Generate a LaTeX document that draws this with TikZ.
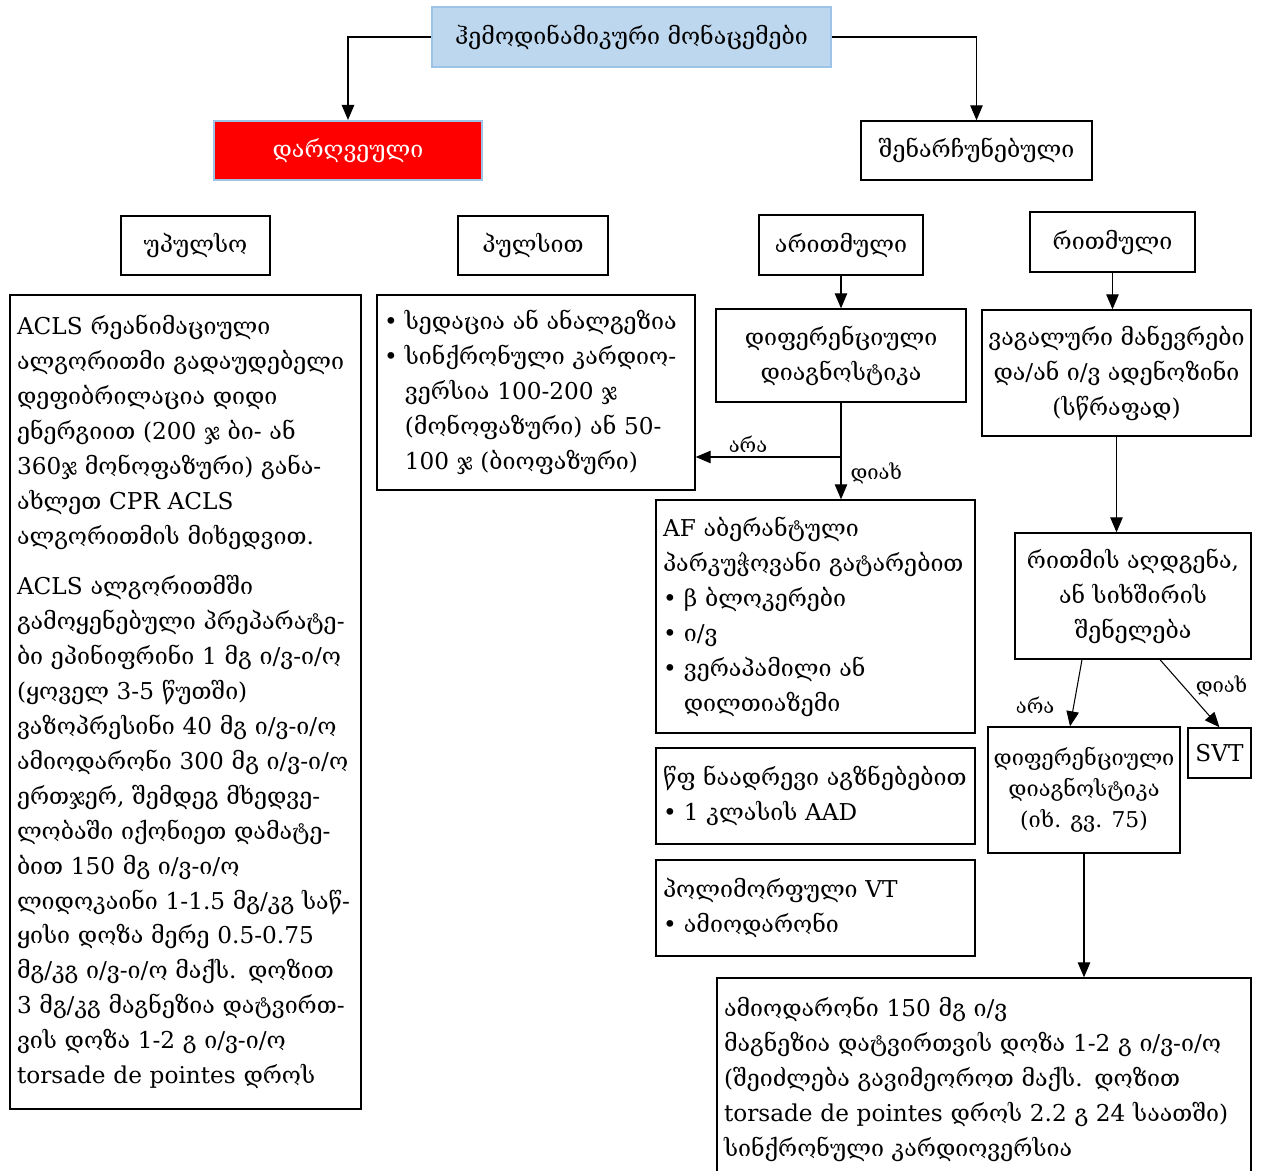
\documentclass[tikz,border=0pt]{standalone}
\usepackage{fontspec}
\setmainfont{DejaVu Serif}
\usetikzlibrary{positioning}
\usetikzlibrary{arrows.meta}
\definecolor{hdrblue}{HTML}{BDD7EE}
\definecolor{hdrline}{HTML}{9DC3E6}
\tikzset{
    boxn/.style = {rectangle, draw=black, line width=0.8pt, align=center, inner xsep=0.1cm, inner ysep=0.18cm, font=\fontsize{13.2}{19.9}\selectfont, text=black},
    boxh/.style = {boxn, draw=hdrline, fill=hdrblue, line width=1.2pt},
    boxr/.style = {boxn, draw=hdrline, fill=red, text=white, line width=1.2pt},
    boxl/.style = {boxn, align=left, inner xsep=0.14cm},
    boxs/.style = {boxn, font=\fontsize{12.4}{17.6}\selectfont},
    edgen/.style = {-{Triangle[length=0.3cm,width=0.25cm]}, line width=0.6pt, black},
    lbl/.style = {font=\fontsize{11.5}{14}\selectfont, inner sep=0.08cm},
}
\newcommand{\bul}{\makebox[0.9em][l]{•}}
\newcommand{\ind}{\hspace*{0.9em}}

\begin{document}
\begin{tikzpicture}
\useasboundingbox (0,0) rectangle (25.34,-23.42);

\node[boxh, minimum width=7.98cm, minimum height=1.20cm] at (12.63, -0.74) (hemo) {ჰემოდინამიკური მონაცემები};
\node[boxr, minimum width=5.36cm, minimum height=1.18cm] at ( 6.96, -3.01) (dar) {დარღვეული};
\node[boxn, minimum width=4.62cm, minimum height=1.18cm] at (19.53, -3.01) (shen) {შენარჩუნებული};

\node[boxn, minimum width=2.98cm, minimum height=1.18cm] at ( 3.91, -4.91) (upul) {უპულსო};
\node[boxn, minimum width=3.00cm, minimum height=1.18cm] at (10.66, -4.91) (pult) {პულსით};
\node[boxn, minimum width=3.28cm, minimum height=1.20cm] at (16.82, -4.90) (arit) {არითმული};
\node[boxn, minimum width=3.30cm, minimum height=1.20cm] at (22.25, -4.84) (ritm) {რითმული};

\node[boxl, text width=6.74cm, minimum height=16.28cm] at ( 3.71,-14.04) (acls) {ACLS რეანიმაციული\\
ალგორითმი გადაუდებელი\\
დეფიბრილაცია დიდი\\
ენერგიით (200 ჯ ბი- ან\\
360ჯ მონოფაზური) განა-\\
ახლეთ CPR ACLS\\
ალგორითმის მიხედვით.\\[0.3cm]
ACLS ალგორითმში\\
გამოყენებული პრეპარატე-\\
ბი ეპინიფრინი 1 მგ ი/ვ-ი/ო\\
(ყოველ 3-5 წუთში)\\
ვაზოპრესინი 40 მგ ი/ვ-ი/ო\\
ამიოდარონი 300 მგ ი/ვ-ი/ო\\
ერთჯერ, შემდეგ მხედვე-\\
ლობაში იქონიეთ დამატე-\\
ბით 150 მგ ი/ვ-ი/ო\\
ლიდოკაინი 1-1.5 მგ/კგ საწ-\\
ყისი დოზა მერე 0.5-0.75\\
მგ/კგ ი/ვ-ი/ო მაქს. დოზით\\
3 მგ/კგ მაგნეზია დატვირთ-\\
ვის დოზა 1-2 გ ი/ვ-ი/ო\\
torsade de pointes დროს};

\node[boxl, text width=6.08cm, minimum height=3.90cm] at (10.72, -7.85) (pulse) {\bul სედაცია ან ანალგეზია\\
\bul სინქრონული კარდიო-\\
\ind ვერსია 100-200 ჯ\\
\ind (მონოფაზური) ან 50-\\
\ind 100 ჯ (ბიოფაზური)};

\node[boxn, minimum width=5.00cm, minimum height=1.86cm] at (16.82, -7.11) (diff1) {დიფერენციული\\დიაგნოსტიკა};
\node[boxn, minimum width=5.38cm, minimum height=2.52cm] at (22.33, -7.46) (vag) {ვაგალური მანევრები\\და/ან ი/ვ ადენოზინი\\(სწრაფად)};

\node[boxl, text width=6.10cm, minimum height=4.66cm] at (16.31,-12.33) (af) {AF აბერანტული\\
პარკუჭოვანი გატარებით\\
\bul β ბლოკერები\\
\bul ი/ვ\\
\bul ვერაპამილი ან\\
\ind დილთიაზემი};
\node[boxl, text width=6.10cm, minimum height=1.92cm] at (16.31,-15.92) (wf) {წფ ნაადრევი აგზნებებით\\
\bul 1 კლასის AAD};
\node[boxl, text width=6.10cm, minimum height=1.92cm] at (16.31,-18.16) (poli) {პოლიმორფული VT\\
\bul ამიოდარონი};

\node[boxn, minimum width=4.72cm, minimum height=2.52cm] at (22.66,-11.92) (rest) {რითმის აღდგენა,\\ან სიხშირის\\შენელება};
\node[boxs, minimum width=3.84cm, minimum height=2.52cm] at (21.68,-15.80) (diff2) {დიფერენციული\\დიაგნოსტიკა\\(იხ. გვ. 75)};
\node[boxn, minimum width=1.26cm, minimum height=1.00cm] at (24.39,-15.06) (svt) {SVT};

\node[boxl, text width=10.40cm, minimum height=4.04cm] at (19.68,-21.58) (bot) {ამიოდარონი 150 მგ ი/ვ\\
მაგნეზია დატვირთვის დოზა 1-2 გ ი/ვ-ი/ო\\
(შეიძლება გავიმეოროთ მაქს. დოზით\\
torsade de pointes დროს 2.2 გ 24 საათში)\\
სინქრონული კარდიოვერსია};

\coordinate (br) at (16.82, -9.14);

\draw[edgen] (hemo.west) -| (dar.north);
\draw[edgen] (hemo.east) -| (shen.north);
\draw[edgen] (arit.south) -- (diff1.north);
\draw[edgen] (ritm.south) -- (ritm.south |- vag.north);
\draw[edgen] (diff1.south) -- node[lbl, right, pos=0.73, xshift=0.1cm] {დიახ} (diff1.south |- af.north);
\draw[edgen] (br) -- node[lbl, above, pos=0.64] {არა} (pulse.east |- br);
\draw[edgen] (vag.south) -- (vag.south |- rest.north);
\draw[edgen] ([xshift=-1.02cm]rest.south) -- node[lbl, left, pos=0.68, xshift=-0.3cm] {არა} ([xshift=-0.28cm]diff2.north);
\draw[edgen] ([xshift=0.54cm]rest.south) -- node[lbl, right, pos=0.4, xshift=0.15cm] {დიახ} (svt.north);
\draw[edgen] (diff2.south) -- (diff2.south |- bot.north);

\end{tikzpicture}
\end{document}
